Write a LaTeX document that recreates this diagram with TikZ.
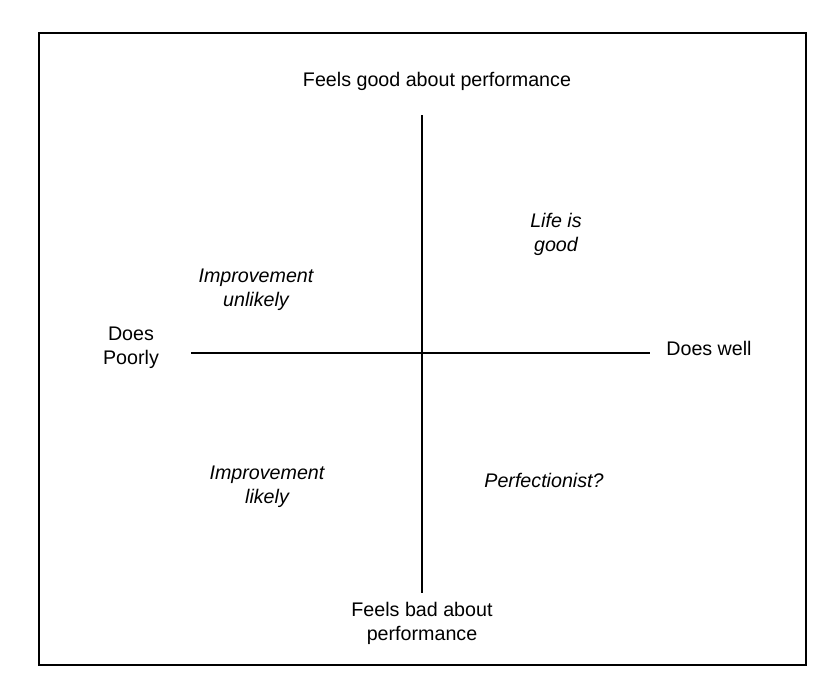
\documentclass[tikz,border=0pt]{standalone}
\usepackage{fontspec}
\setmainfont{Liberation Sans}
\usetikzlibrary{positioning}
\begin{document}
\begin{tikzpicture}[x=0.02cm, y=-0.02cm]
 \tikzset{
axislabel/.style = {align=center, font=\fontsize{11.2}{13.6}\selectfont},
quadrant/.style = {align=center, font=\fontsize{11.2}{13.6}\selectfont\itshape},
axis/.style = {line width=0.6pt}}

  \useasboundingbox (0,0) rectangle (839,683);
  \draw [line width=0.6pt] (39,33) rectangle (806,665);

      \coordinate (Top) at (422,115);
      \coordinate (Bottom) at (422,593);
      \coordinate (Left) at (191,353);
      \coordinate (Right) at (650,353);
      \draw [axis] (Top) -- (Bottom);
      \draw [axis] (Left) -- (Right);

     \node [axislabel] (Good) at (437,81) {Feels good about performance};
     \node [axislabel] (Bad) at (422,623) {Feels bad about\\performance};
     \node [axislabel] (Poorly) at (131,348) {Does\\Poorly};
     \node [axislabel] (Well) at (709,348) {Does well};

     \node [quadrant] (Life) at (556,234) {Life is\\good};
     \node [quadrant] (Unlikely) at (256,290) {Improvement\\unlikely};
     \node [quadrant] (Likely) at (267,487) {Improvement\\likely};
     \node [quadrant] (Perf) at (544,480) {Perfectionist?};

  \end{tikzpicture}
\end{document}
